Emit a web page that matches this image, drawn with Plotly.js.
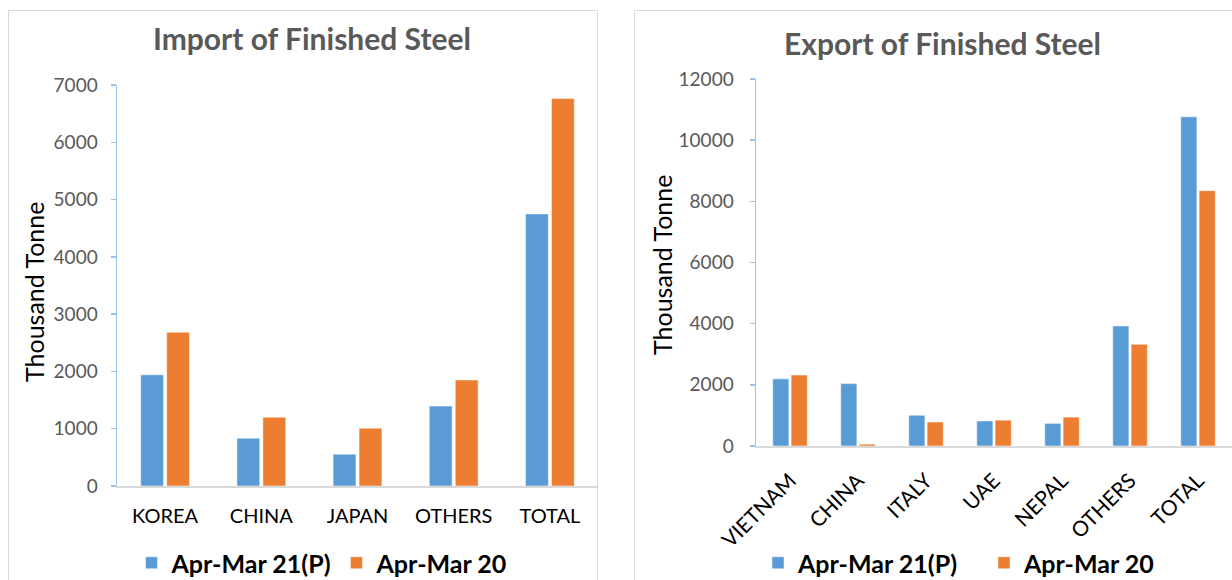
<!DOCTYPE html>
<html>
<head>
<meta charset="utf-8">
<script src="https://cdn.plot.ly/plotly-3.0.1.min.js"></script>
<style>html,body{margin:0;padding:0;background:#fff;}#chart{width:1232px;height:580px;}</style>
</head>
<body>
<div id="chart"></div>
<script>
// ---- data ----
const importCategories = ["KOREA", "CHINA", "JAPAN", "OTHERS", "TOTAL"];
const importApr21 = [1940, 835, 555, 1395, 4750];
const importApr20 = [2685, 1200, 1010, 1850, 6765];

const exportCategories = ["VIETNAM", "CHINA", "ITALY", "UAE", "NEPAL", "OTHERS", "TOTAL"];
const exportApr21 = [2195, 2040, 1005, 818, 740, 3925, 10765];
const exportApr20 = [2320, 60, 785, 845, 945, 3325, 8350];

const seriesNames = ["Apr-Mar 21(P)", "Apr-Mar 20"];
const importTitle = "Import of Finished Steel";
const exportTitle = "Export of Finished Steel";
const yTitle = "Thousand Tonne";

// ---- styles ----
const BLUE = "#5b9bd5", ORANGE = "#ed7d31";
const FONT = "Lato, 'Open Sans', sans-serif";
const W = 1232, H = 580;
const px = x => x / W;
const py = y => (H - y) / H;

const traces = [
  {type: "bar", x: importCategories, y: importApr21, name: seriesNames[0], xaxis: "x", yaxis: "y",
   marker: {color: BLUE, line: {color: "#ffffff", width: 0.5}}, legend: "legend"},
  {type: "bar", x: importCategories, y: importApr20, name: seriesNames[1], xaxis: "x", yaxis: "y",
   marker: {color: ORANGE, line: {color: "#ffffff", width: 0.5}}, legend: "legend"},
  {type: "bar", x: exportCategories, y: exportApr21, name: seriesNames[0], xaxis: "x2", yaxis: "y2",
   marker: {color: BLUE, line: {color: "#ffffff", width: 0.5}}, legend: "legend2"},
  {type: "bar", x: exportCategories, y: exportApr20, name: seriesNames[1], xaxis: "x2", yaxis: "y2",
   marker: {color: ORANGE, line: {color: "#ffffff", width: 0.5}}, legend: "legend2"}
];

const yaxisCommon = {
  showgrid: false, zeroline: false, showline: true, linecolor: "#9dc3e6", linewidth: 1.5,
  ticks: "outside", ticklen: 5, tickcolor: "#9dc3e6", tickwidth: 1.5, tickformat: "d",
  tickfont: {family: FONT, size: 19, color: "#595959"}, ticklabelstandoff: 9, fixedrange: true
};
const xaxisCommon = {
  showgrid: false, zeroline: false, showline: true, linecolor: "#d9d9d9", linewidth: 2,
  ticks: "", tickfont: {family: FONT, size: 20, color: "#000000"}, fixedrange: true
};

const legendFont = {family: FONT, size: 25, color: "#000000", weight: "bold"};

const layout = {
  width: W, height: H,
  margin: {l: 0, r: 0, t: 0, b: 0, autoexpand: false},
  paper_bgcolor: "#ffffff", plot_bgcolor: "rgba(0,0,0,0)",
  barmode: "group", bargap: 0.46, bargroupgap: 0.12,
  xaxis: Object.assign({}, xaxisCommon, {domain: [px(117), px(598)], anchor: "y", ticklabelstandoff: 11}),
  yaxis: Object.assign({}, yaxisCommon, {domain: [py(486), py(85)], anchor: "x", range: [0, 7000], dtick: 1000}),
  xaxis2: Object.assign({}, xaxisCommon, {domain: [px(756), 1], anchor: "y2", tickangle: -45, ticklabelstandoff: 12,
                        tickfont: {family: FONT, size: 21, color: "#000000"}}),
  yaxis2: Object.assign({}, yaxisCommon, {domain: [py(446), py(79)], anchor: "x2", range: [0, 12000], dtick: 2000,
                        ticklabelstandoff: 12}),
  showlegend: true,
  legend: {orientation: "h", x: px(322), xanchor: "center", y: py(563), yanchor: "middle",
           font: legendFont, bgcolor: "rgba(0,0,0,0)", itemwidth: 30},
  legend2: {orientation: "h", x: px(984), xanchor: "center", y: py(563), yanchor: "middle",
           font: legendFont, bgcolor: "rgba(0,0,0,0)", itemwidth: 30, entrywidth: 181},
  annotations: [
    {text: importTitle, xref: "paper", yref: "paper", x: px(312), y: py(38), xanchor: "center", yanchor: "middle",
     showarrow: false, font: {family: FONT, size: 30, color: "#595959", weight: "bold"}},
    {text: exportTitle, xref: "paper", yref: "paper", x: px(942), y: py(43), xanchor: "center", yanchor: "middle",
     showarrow: false, font: {family: FONT, size: 30, color: "#595959", weight: "bold"}},
    {text: yTitle, xref: "paper", yref: "paper", x: px(34), y: py(292), xanchor: "center", yanchor: "middle",
     textangle: -90, showarrow: false, font: {family: FONT, size: 25, color: "#000000"}},
    {text: yTitle, xref: "paper", yref: "paper", x: px(662), y: py(265), xanchor: "center", yanchor: "middle",
     textangle: -90, showarrow: false, font: {family: FONT, size: 25, color: "#000000"}}
  ],
  shapes: [
    {type: "rect", xref: "paper", yref: "paper", x0: px(8.5), x1: px(597.5), y0: -0.05, y1: py(10.5),
     line: {color: "#d9d9d9", width: 1}, layer: "below"},
    {type: "rect", xref: "paper", yref: "paper", x0: px(634.5), x1: 1.05, y0: -0.05, y1: py(10.5),
     line: {color: "#d9d9d9", width: 1}, layer: "below"}
  ]
};

Plotly.newPlot("chart", traces, layout, {displayModeBar: false, staticPlot: true});
</script>
</body>
</html>
